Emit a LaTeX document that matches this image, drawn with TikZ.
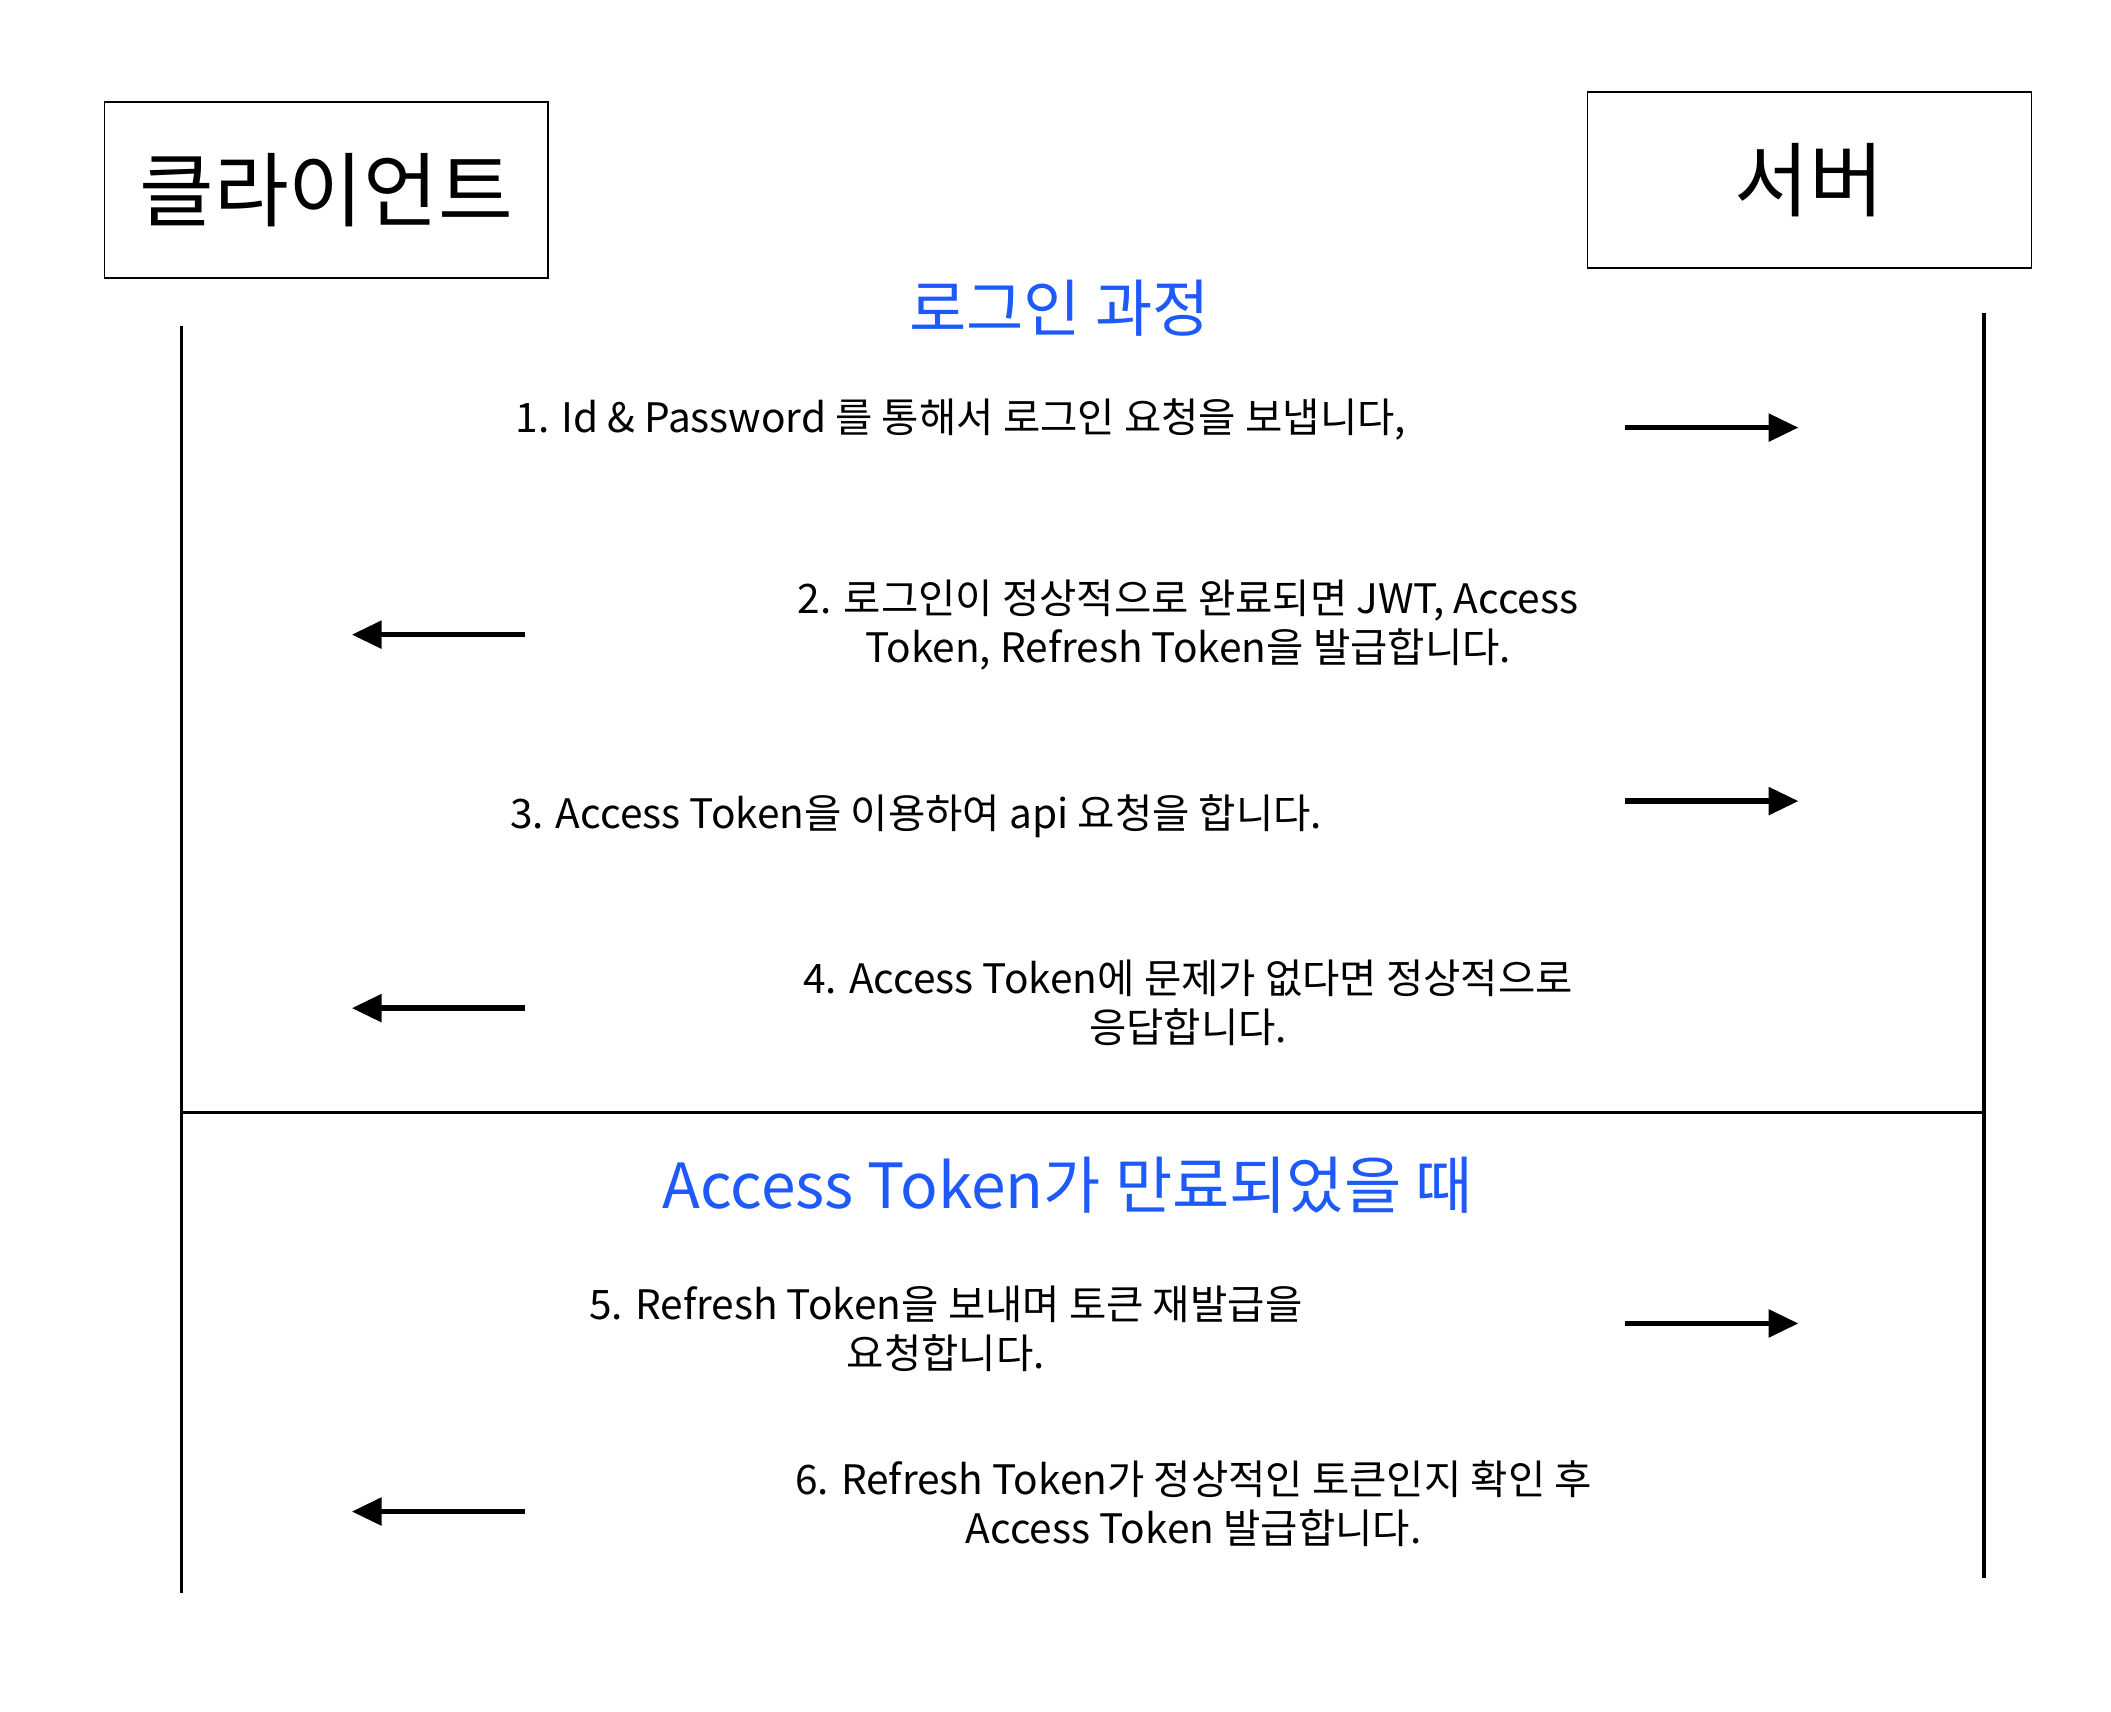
\documentclass[tikz,border=0pt]{standalone}
\usepackage{fontspec}
\setmainfont{Noto Sans CJK KR}
\usetikzlibrary{arrows.meta}
\definecolor{tblue}{RGB}{30,90,250}
\begin{document}
\begin{tikzpicture}[x=1pt,y=-1pt,
  box/.style={draw,line width=1pt,minimum width=328pt,minimum height=130pt,font=\fontsize{60}{66}\selectfont},
  life/.style={line width=2.5pt},
  msg/.style={font=\fontsize{30}{36}\selectfont,align=center},
  title/.style={font=\fontsize{46}{52}\selectfont,text=tblue},
  arr/.style={line width=4pt,-{Triangle[length=22pt,width=20pt]}}]
\useasboundingbox (0,0) rectangle (1560,1265);
\node[box] (client) at (241,140.5) {클라이언트};
\node[box] (server) at (1337,133) {서버};
\coordinate (lt) at (134,241); \coordinate (lb) at (134,1177);
\coordinate (rt) at (1466,231); \coordinate (rb) at (1466,1166);
\draw[life] (lt) -- (lb); \draw[life] (rt) -- (rb);
\coordinate (dl) at (134,822); \coordinate (dr) at (1466,822);
\draw[life] (dl) -- (dr);
\node[title] (t1) at (783,228) {로그인 과정};
\node[title] (t2) at (789,876) {Access Token가 만료되었을 때};
\node[msg] (m1) at (710,310) {1. Id \& Password 를 통해서 로그인 요청을 보냅니다,};
\node[msg] (m2) at (878,462) {2. 로그인이 정상적으로 완료되면 JWT, Access\\Token, Refresh Token을 발급합니다.};
\node[msg] (m3) at (677,603) {3. Access Token을 이용하여 api 요청을 합니다.};
\node[msg] (m4) at (878,741) {4. Access Token에 문제가 없다면 정상적으로\\응답합니다.};
\node[msg] (m5) at (699,982) {5. Refresh Token을 보내며 토큰 재발급을\\요청합니다.};
\node[msg] (m6) at (882,1111) {6. Refresh Token가 정상적인 토큰인지 확인 후\\Access Token 발급합니다.};
\foreach \y/\n in {316/a,592/b,978/c}{
  \coordinate (rs\n) at (1201,\y); \coordinate (re\n) at (1329,\y);
  \draw[arr] (rs\n) -- (re\n);}
\foreach \y/\n in {469/a,745/b,1117/c}{
  \coordinate (ls\n) at (388,\y); \coordinate (le\n) at (260,\y);
  \draw[arr] (ls\n) -- (le\n);}
\end{tikzpicture}
\end{document}
